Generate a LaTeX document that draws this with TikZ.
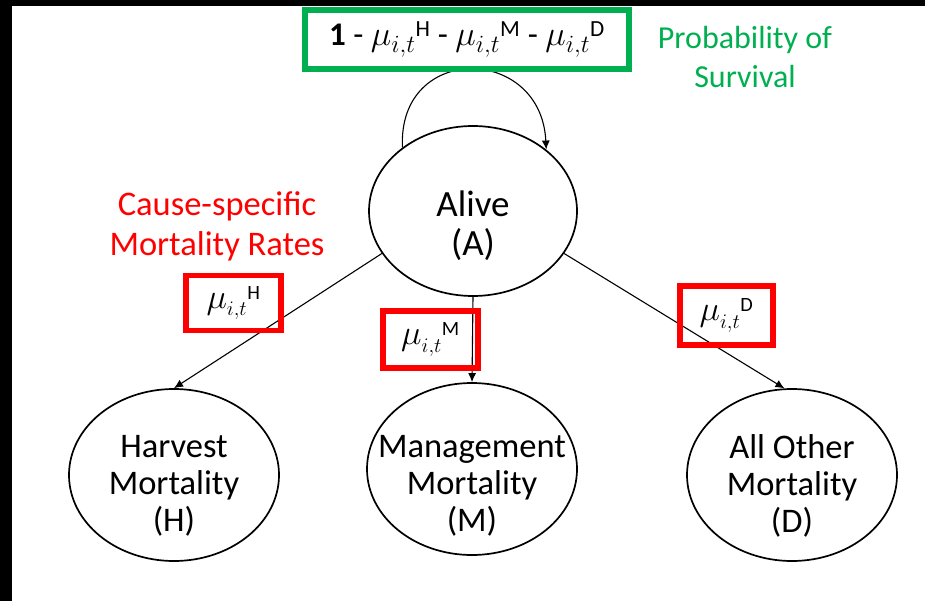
\documentclass[tikz,border=0pt]{standalone}
\usepackage{amsmath}
\usepackage{fontspec}
\setmainfont{Carlito}
\usetikzlibrary{shapes.geometric,arrows.meta,positioning}
\definecolor{survgreen}{RGB}{0,176,80}
\newcommand{\murate}[1]{${\scalebox{1.4}{$\mu$}_{i,t}}^{\text{#1}}$}

\begin{document}
\begin{tikzpicture}[x=1bp,y=-1bp,
  state/.style={ellipse,draw,line width=1.7bp,minimum width=210bp,minimum height=172bp,inner sep=0pt},
  lbl/.style={align=center,font=\fontsize{34.5bp}{37bp}\selectfont},
  note/.style={align=center,font=\fontsize{32bp}{39bp}\selectfont},
  rate/.style={draw=red,line width=5.5bp,minimum width=95bp,minimum height=55bp,inner sep=0pt,font=\fontsize{29bp}{31bp}\selectfont},
  flow/.style={-{Latex[length=9bp,width=8bp]},line width=1.1bp}]

\useasboundingbox (0,0) rectangle (925,601);
\fill[white] (0,0) rectangle (925,601);
\fill[black] (0,0) rectangle (925,6);
\fill[black] (0,0) rectangle (12,601);

% states
\node[state,minimum width=208bp,minimum height=170bp] (alive) at (473,211) {};
\node[state] (harv) at (174,475) {};
\node[state] (mgmt) at (472,469) {};
\node[state] (oth) at (792,475) {};

\node[lbl,font=\fontsize{37bp}{39bp}\selectfont] (alive-txt) at ([yshift=-15bp]alive.center) {Alive\\(A)};
\node[lbl] (harv-txt) at ([yshift=-11bp]harv.center) {Harvest\\Mortality\\(H)};
\node[lbl] (mgmt-txt) at ([yshift=-17bp]mgmt.center) {Management\\Mortality\\(M)};
\node[lbl] (oth-txt) at ([yshift=-11bp]oth.center) {All Other\\Mortality\\(D)};

% survival loop, under the box
\draw[flow] (alive.138) .. controls +(-5,-105) and +(-5,-105) .. (alive.40);

\node[draw=survgreen,fill=white,line width=6bp,minimum width=324bp,minimum height=59bp,inner sep=0pt,
  font=\fontsize{33bp}{35bp}\selectfont] (surv) at (467,39.5)
  {\textbf{1} - \murate{H} - \murate{M} - \murate{D}};
\node[note,text=survgreen] (surv-lbl) at (745,57) {Probability of\\Survival};

% transitions
\draw[flow] (alive.205) -- (harv.north);
\draw[flow] (alive.south) -- (mgmt.north);
\draw[flow] (alive.335) -- (oth.95);

% cause-specific rates
\node[note,text=red,font=\fontsize{34.5bp}{40bp}\selectfont] (cause-lbl) at (217,226) {Cause-specific\\Mortality Rates};
\node[rate] (rate-h) at (233.5,303) {\murate{H}};
\node[rate,minimum height=57bp] (rate-m) at (430.5,339.5) {\murate{M}};
\node[rate,minimum width=93bp,minimum height=59bp] (rate-d) at (726.5,315.5) {\murate{D}};
\end{tikzpicture}
\end{document}
